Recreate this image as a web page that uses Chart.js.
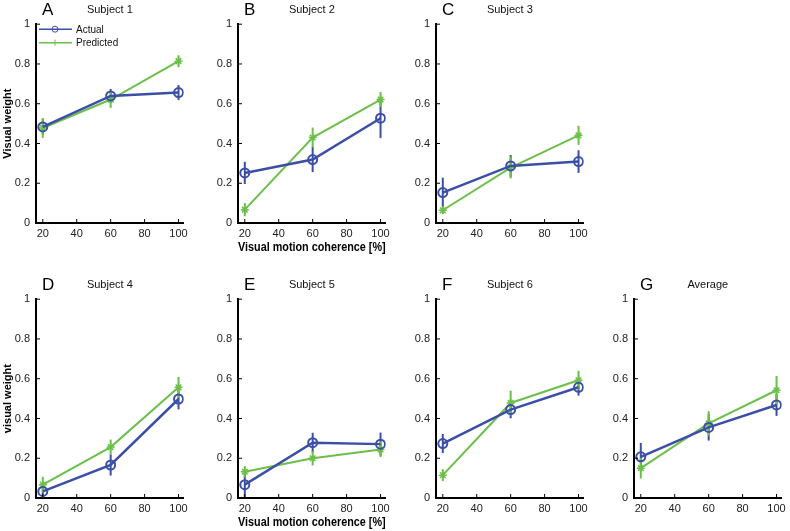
<!DOCTYPE html>
<html>
<head>
<meta charset="utf-8">
<script src="https://cdn.jsdelivr.net/npm/chart.js@4/dist/chart.umd.min.js"></script>
<style>
  body { margin: 0; background: #fff; }
  #wrap { position: relative; width: 790px; height: 531px; overflow: hidden; background: #fff; }
  #wrap canvas { position: absolute; }
</style>
</head>
<body>
<div id="wrap"></div>
<script>
// x positions (visual motion coherence, %) and axis ticks
const coherence = [20, 60, 100];
const xTicks = [20, 40, 60, 80, 100];

// subject 1
const s1Actual = [0.483, 0.639, 0.656];
const s1ActualErr = [0.04, 0.035, 0.038];
const s1Predicted = [0.478, 0.621, 0.814];
const s1PredictedErr = [0.05, 0.042, 0.03];
// subject 2
const s2Actual = [0.252, 0.319, 0.527];
const s2ActualErr = [0.056, 0.063, 0.1];
const s2Predicted = [0.067, 0.43, 0.621];
const s2PredictedErr = [0.033, 0.05, 0.038];
// subject 3
const s3Actual = [0.153, 0.287, 0.309];
const s3ActualErr = [0.075, 0.055, 0.057];
const s3Predicted = [0.064, 0.279, 0.441];
const s3PredictedErr = [0.018, 0.055, 0.048];
// subject 4
const s4Actual = [0.033, 0.166, 0.498];
const s4ActualErr = [0.035, 0.053, 0.052];
const s4Predicted = [0.067, 0.256, 0.557];
const s4PredictedErr = [0.04, 0.038, 0.052];
// subject 5
const s5Actual = [0.067, 0.278, 0.271];
const s5ActualErr = [0.063, 0.05, 0.058];
const s5Predicted = [0.132, 0.2, 0.244];
const s5PredictedErr = [0.028, 0.036, 0.038];
// subject 6
const s6Actual = [0.274, 0.445, 0.557];
const s6ActualErr = [0.048, 0.044, 0.042];
const s6Predicted = [0.115, 0.478, 0.592];
const s6PredictedErr = [0.03, 0.062, 0.048];
// average
const avgActual = [0.207, 0.355, 0.468];
const avgActualErr = [0.07, 0.066, 0.055];
const avgPredicted = [0.15, 0.375, 0.542];
const avgPredictedErr = [0.052, 0.062, 0.072];

const BLUE = "#3b4fa6";
const GREEN = "#6cbf4a";
const FONT = "'Liberation Sans', Arial, sans-serif";

const panels = [
  { letter: "A", title: "Subject 1", actual: s1Actual, actualErr: s1ActualErr, predicted: s1Predicted, predictedErr: s1PredictedErr, left: 0, top: 0, yTitle: "Visual weight", legend: true },
  { letter: "B", title: "Subject 2", actual: s2Actual, actualErr: s2ActualErr, predicted: s2Predicted, predictedErr: s2PredictedErr, left: 202, top: 0, xTitle: true },
  { letter: "C", title: "Subject 3", actual: s3Actual, actualErr: s3ActualErr, predicted: s3Predicted, predictedErr: s3PredictedErr, left: 400, top: 0 },
  { letter: "D", title: "Subject 4", actual: s4Actual, actualErr: s4ActualErr, predicted: s4Predicted, predictedErr: s4PredictedErr, left: 0, top: 275, yTitle: "visual weight" },
  { letter: "E", title: "Subject 5", actual: s5Actual, actualErr: s5ActualErr, predicted: s5Predicted, predictedErr: s5PredictedErr, left: 202, top: 275, xTitle: true },
  { letter: "F", title: "Subject 6", actual: s6Actual, actualErr: s6ActualErr, predicted: s6Predicted, predictedErr: s6PredictedErr, left: 400, top: 275 },
  { letter: "G", title: "Average", actual: avgActual, actualErr: avgActualErr, predicted: avgPredicted, predictedErr: avgPredictedErr, left: 598, top: 275 },
];

const toPoints = (values) => values.map((v, i) => ({ x: coherence[i], y: v }));

// vertical error bars under the lines
const errorBars = {
  id: "errorBars",
  beforeDatasetsDraw(chart) {
    const { ctx, scales: { x, y } } = chart;
    chart.data.datasets.forEach((ds, di) => {
      const meta = chart.getDatasetMeta(di);
      ctx.save();
      ctx.strokeStyle = ds.borderColor;
      ctx.lineWidth = 2;
      meta.data.forEach((pt, i) => {
        const v = ds.data[i].y;
        const e = ds.errors[i];
        const px = x.getPixelForValue(ds.data[i].x);
        ctx.beginPath();
        ctx.moveTo(px, y.getPixelForValue(Math.max(0, v - e)));
        ctx.lineTo(px, y.getPixelForValue(v + e));
        ctx.stroke();
      });
      ctx.restore();
    });
  },
};

// inward tick marks, panel letter and the legend of panel A
const decorations = {
  id: "decorations",
  afterDraw(chart, args, opts) {
    const { ctx, chartArea, scales: { x, y } } = chart;
    ctx.save();
    ctx.strokeStyle = "#000";
    ctx.lineWidth = 1;
    y.ticks.forEach((t) => {
      const py = y.getPixelForValue(t.value);
      ctx.beginPath();
      ctx.moveTo(chartArea.left, py);
      ctx.lineTo(chartArea.left + 4, py);
      ctx.stroke();
    });
    x.ticks.forEach((t) => {
      const px = x.getPixelForValue(t.value);
      ctx.beginPath();
      ctx.moveTo(px, chartArea.bottom);
      ctx.lineTo(px, chartArea.bottom - 4);
      ctx.stroke();
    });

    ctx.fillStyle = "#000";
    ctx.font = "17px " + FONT;
    ctx.textBaseline = "middle";
    ctx.textAlign = "left";
    ctx.fillText(opts.letter, chartArea.left + 6, 10);

    if (opts.legend) {
      chart.data.datasets.forEach((ds, i) => {
        const ly = chartArea.top + 5 + i * 13.5;
        const lx = chartArea.left + 3;
        ctx.strokeStyle = ds.borderColor;
        ctx.lineWidth = 1.5;
        ctx.beginPath();
        ctx.moveTo(lx, ly);
        ctx.lineTo(lx + 33, ly);
        ctx.stroke();
        ctx.lineWidth = 1;
        if (ds.pointStyle === "circle") {
          ctx.beginPath();
          ctx.arc(lx + 16, ly, 3, 0, Math.PI * 2);
          ctx.stroke();
        } else {
          ctx.beginPath();
          ctx.moveTo(lx + 16, ly - 3);
          ctx.lineTo(lx + 16, ly + 3);
          ctx.stroke();
        }
        ctx.fillStyle = "#111";
        ctx.font = "10px " + FONT;
        ctx.fillText(ds.label, lx + 37, ly + 1);
      });
    }
    ctx.restore();
  },
};

const wrap = document.getElementById("wrap");

panels.forEach((p) => {
  const canvas = document.createElement("canvas");
  canvas.width = 192;
  canvas.height = 262;
  canvas.style.left = p.left + "px";
  canvas.style.top = p.top + "px";
  wrap.appendChild(canvas);

  new Chart(canvas, {
    type: "line",
    data: {
      datasets: [
        {
          label: "Actual",
          data: toPoints(p.actual),
          errors: p.actualErr,
          borderColor: BLUE,
          backgroundColor: "rgba(0,0,0,0)",
          borderWidth: 2.5,
          pointStyle: "circle",
          pointRadius: 4.5,
          pointBorderWidth: 2,
        },
        {
          label: "Predicted",
          data: toPoints(p.predicted),
          errors: p.predictedErr,
          borderColor: GREEN,
          backgroundColor: "rgba(0,0,0,0)",
          borderWidth: 2,
          pointStyle: "star",
          pointRadius: 4,
          pointBorderWidth: 1.5,
        },
      ],
    },
    options: {
      responsive: false,
      animation: false,
      devicePixelRatio: 1,
      layout: { padding: { left: 0, right: 8, top: 0, bottom: 0 } },
      plugins: {
        legend: { display: false },
        tooltip: { enabled: false },
        title: {
          display: true,
          text: p.title,
          fullSize: false,
          color: "#111",
          font: { family: FONT, size: 11, weight: "normal" },
          padding: { top: 3, bottom: 8 },
        },
        decorations: { letter: p.letter, legend: !!p.legend },
      },
      scales: {
        x: {
          type: "linear",
          min: 16,
          max: 103,
          afterBuildTicks: (scale) => {
            scale.ticks = xTicks.map((v) => ({ value: v }));
          },
          afterFit: (scale) => {
            scale.height = 39;
          },
          grid: { drawOnChartArea: false, drawTicks: false },
          border: { color: "#000", width: 2 },
          ticks: { color: "#222", font: { family: FONT, size: 11 }, padding: 4, maxRotation: 0 },
          title: {
            display: !!p.xTitle,
            text: "Visual motion coherence [%]",
            color: "#000",
            font: { family: FONT, size: 12, weight: "bold" },
            padding: { top: 0, bottom: 7 },
          },
        },
        y: {
          min: 0,
          max: 1,
          ticks: {
            stepSize: 0.2,
            color: "#222",
            font: { family: FONT, size: 11 },
            padding: 6,
            callback: (v) => String(Number(v.toFixed(1))),
          },
          afterFit: (scale) => {
            scale.width = 36;
          },
          grid: { drawOnChartArea: false, drawTicks: false },
          border: { color: "#000", width: 2 },
          title: {
            display: !!p.yTitle,
            text: p.yTitle || "",
            color: "#000",
            font: { family: FONT, size: 11, weight: "bold" },
            padding: { top: 1, bottom: 0 },
          },
        },
      },
    },
    plugins: [errorBars, decorations],
  });
});
</script>
</body>
</html>
